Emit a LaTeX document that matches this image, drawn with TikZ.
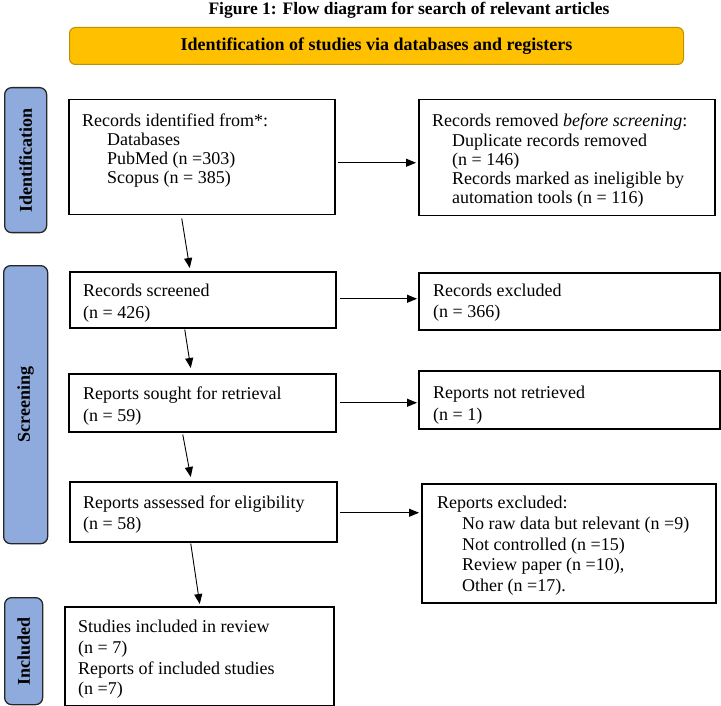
\documentclass[tikz,border=0pt]{standalone}
\usepackage{fontspec}
\setmainfont{Liberation Serif}
\usetikzlibrary{arrows.meta,calc}
\definecolor{sideblue}{HTML}{8FAADC}
\definecolor{gold}{HTML}{FFC000}
\definecolor{golddark}{HTML}{BF9000}
\begin{document}
\begin{tikzpicture}[x=1pt,y=-1pt,
  boxst/.style={draw=black, line width=1.5pt, inner sep=0pt, anchor=north west},
  txt/.style={anchor=north west, inner sep=0pt, align=left},
  side/.style={draw=black!85, line width=1.3pt, fill=sideblue, rounded corners=7pt, anchor=north west, inner sep=0pt, font=\bfseries\fontsize{18}{20}\selectfont},
  arr/.style={-{Triangle[length=10pt,width=8pt]}, line width=0.9pt}]
\useasboundingbox (0,0) rectangle (721,706);

% title and header
\node[inner sep=0pt, font=\bfseries\fontsize{17.5}{20}\selectfont] (title) at (409,10) {Figure 1: Flow diagram for search of relevant articles};
\node[draw=golddark, fill=gold, rounded corners=6pt, line width=1pt, minimum width=614pt, minimum height=37pt, anchor=north west, font=\bfseries\fontsize{18}{20}\selectfont] (head) at (69,27) {Identification of studies via databases and registers};

% side labels
\node[side, minimum width=42pt, minimum height=145pt] (sideid) at (4,87) {\rotatebox{90}{Identification}};
\node[side, minimum width=44pt, minimum height=278pt] (sidescr) at (3,265) {\rotatebox{90}{Screening}};
\node[side, minimum width=38pt, minimum height=107pt] (sideinc) at (4,597) {\rotatebox{90}{Included}};

% boxes
\node[boxst, minimum width=266pt, minimum height=115pt] (b1) at (68,99) {};
\node[boxst, minimum width=296pt, minimum height=116pt] (rem) at (418,99) {};
\node[boxst, minimum width=266pt, minimum height=56pt] (scr) at (69,271) {};
\node[boxst, minimum width=301pt, minimum height=57pt] (exc) at (418,272) {};
\node[boxst, minimum width=267pt, minimum height=58pt] (sou) at (68,373) {};
\node[boxst, minimum width=301pt, minimum height=58pt] (nr) at (418,370) {};
\node[boxst, minimum width=267pt, minimum height=60pt] (ass) at (69,481) {};
\node[boxst, minimum width=294pt, minimum height=119pt] (rex) at (421,483) {};
\node[boxst, minimum width=269pt, minimum height=99pt] (inc) at (64,606) {};

% texts
\node[txt, font=\fontsize{18}{19}\selectfont] (t1) at (82,114) {Records identified from*:\\\hspace*{25pt}Databases\\\hspace*{25pt}PubMed (n =303)\\\hspace*{25pt}Scopus (n = 385)};
\node[txt, font=\fontsize{18}{19.25}\selectfont] (t2) at (432,114) {Records removed \textit{before screening}:\\\hspace*{20pt}Duplicate records removed\\\hspace*{20pt}(n = 146)\\\hspace*{20pt}Records marked as ineligible by\\\hspace*{20pt}automation tools (n = 116)};
\node[txt, font=\fontsize{18}{22}\selectfont] (t3) at (83,284) {Records screened\\(n = 426)};
\node[txt, font=\fontsize{18}{21}\selectfont] (t4) at (433,284) {Records excluded\\(n = 366)};
\node[txt, font=\fontsize{18}{22}\selectfont] (t5) at (83,387) {Reports sought for retrieval\\(n = 59)};
\node[txt, font=\fontsize{18}{22}\selectfont] (t6) at (433,386) {Reports not retrieved\\(n = 1)};
\node[txt, font=\fontsize{18}{21}\selectfont] (t7) at (83,496) {Reports assessed for eligibility\\(n = 58)};
\node[txt, font=\fontsize{18}{20.75}\selectfont] (t8) at (437,496) {Reports excluded:\\\hspace*{25pt}No raw data but relevant (n =9)\\\hspace*{25pt}Not controlled (n =15)\\\hspace*{25pt}Review paper (n =10),\\\hspace*{25pt}Other (n =17).};
\node[txt, font=\fontsize{18}{20.7}\selectfont] (t9) at (78,620) {Studies included in review\\(n = 7)\\Reports of included studies\\(n =7)};

% arrows
\draw[arr] ($(b1.south)+(-20,3)$) -- ($(scr.north)+(-13,-3)$);
\draw[arr] ($(scr.south)+(-18,1)$) -- ($(sou.north)+(-11.5,-5)$);
\draw[arr] ($(sou.south)+(-19.5,2)$) -- ($(ass.north)+(-12.5,-4)$);
\draw[arr] ($(ass.south)+(-12.5,1)$) -- ($(inc.north)+(0.5,-2)$);
\draw[arr] ($(b1.east)+(2,5.5)$) -- ($(b1.east -| rem.west)+(-2,5.5)$);
\draw[arr] ($(scr.east)+(3,-1)$) -- ($(scr.east -| exc.west)+(-1,-1)$);
\draw[arr] ($(sou.east)+(3,0)$) -- ($(sou.east -| nr.west)+(-1,0)$);
\draw[arr] ($(ass.east)+(2,1)$) -- ($(ass.east -| rex.west)+(-2,1)$);
\end{tikzpicture}
\end{document}
